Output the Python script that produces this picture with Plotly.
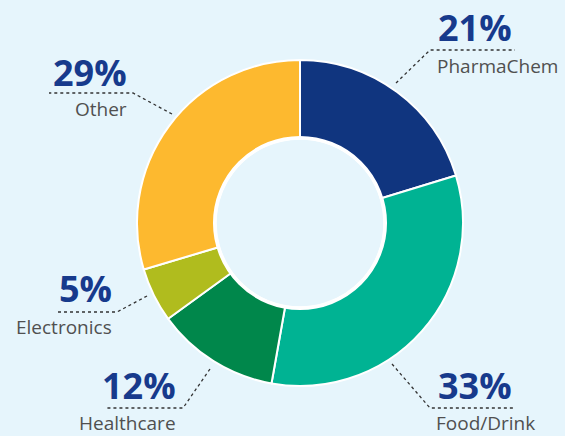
import plotly.graph_objects as go

categories = ["PharmaChem", "Food/Drink", "Healthcare", "Electronics", "Other"]
values = [20.3, 32.5, 12.2, 5.4, 29.6]
pct_labels = ["21%", "33%", "12%", "5%", "29%"]
colors = ["#10357F", "#00B393", "#00874B", "#B0BC1E", "#FDB92F"]

W, H = 565, 436
BG = "#E6F5FC"

# pie geometry (pixels)
cx, cy, R = 300, 223, 163
hole = 0.517


def px(x):
    return x / W


def py(y):
    return 1 - y / H


fig = go.Figure()
fig.add_trace(go.Pie(
    labels=categories, values=values, sort=False, direction="clockwise",
    rotation=0, hole=hole, textinfo="none", hoverinfo="label",
    marker=dict(colors=colors, line=dict(color="white", width=2)),
    domain=dict(x=[px(cx - R), px(cx + R)], y=[py(cy + R), py(cy - R)]),
    showlegend=False,
))

# white ring around the hole
rh = R * hole + 1
shapes = [dict(type="circle", xref="paper", yref="paper",
               x0=px(cx - rh), x1=px(cx + rh), y0=py(cy + rh), y1=py(cy - rh),
               line=dict(color="white", width=3.5), fillcolor="rgba(0,0,0,0)")]

# leader lines (pixel layout)
leaders = {
    "PharmaChem": [(396, 83), (430, 50), (515, 50)],
    "Food/Drink": [(392, 364), (430, 408), (515, 408)],
    "Healthcare": [(210, 369), (183, 408), (106, 408)],
    "Electronics": [(147, 296), (117, 312), (57, 312)],
    "Other": [(172, 114), (133, 93), (49, 93)],
}
for name, pts in leaders.items():
    path = "M " + " L ".join(f"{px(x):.5f},{py(y):.5f}" for x, y in pts)
    shapes.append(dict(type="path", xref="paper", yref="paper", path=path,
                       line=dict(color="#333333", width=1.3, dash="dot")))

# label layout: (pct x, pct y, name x, name y, anchor)
label_pos = {
    "PharmaChem": (436, 27, 435, 66, "left"),
    "Food/Drink": (436, 385, 434, 423, "left"),
    "Healthcare": (178, 385, 178, 423, "right"),
    "Electronics": (114, 288, 114, 327, "right"),
    "Other": (129, 72, 129, 109, "right"),
}
annotations = []
for name, pct in zip(categories, pct_labels):
    x1, y1, x2, y2, anc = label_pos[name]
    annotations.append(dict(text=f"<b>{pct}</b>", x=px(x1), y=py(y1), xref="paper", yref="paper",
                            xanchor=anc, yanchor="middle", showarrow=False,
                            font=dict(family="Open Sans", size=36, color="#173A8C")))
    annotations.append(dict(text=name, x=px(x2), y=py(y2), xref="paper", yref="paper",
                            xanchor=anc, yanchor="middle", showarrow=False,
                            font=dict(family="Open Sans", size=19, color="#505050")))

fig.update_layout(
    width=W, height=H, margin=dict(l=0, r=0, t=0, b=0),
    paper_bgcolor=BG, plot_bgcolor=BG,
    shapes=shapes, annotations=annotations,
)

fig.write_html(
    "out.html",
    config={"displayModeBar": False},
    post_script="document.body.style.margin='0';document.body.style.overflow='hidden';"
                "document.body.style.background='#E6F5FC';",
)
